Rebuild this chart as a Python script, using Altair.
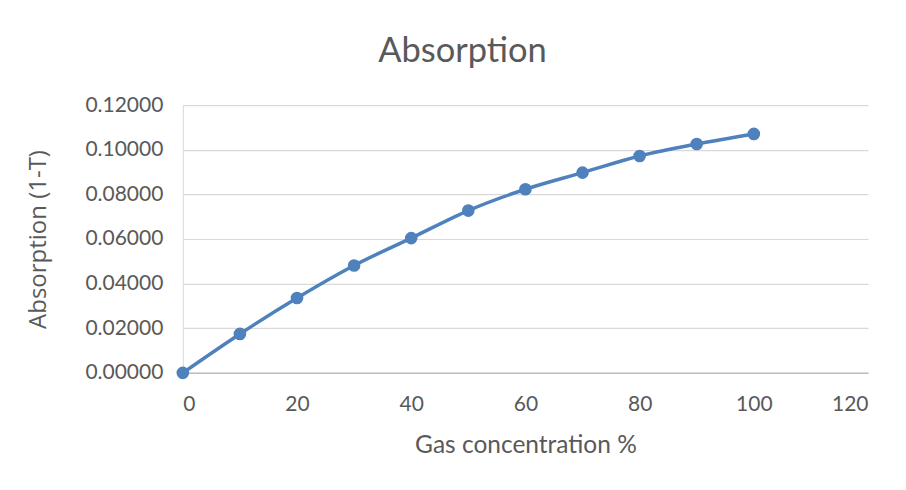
import altair as alt
import pandas as pd

concentration = [0, 10, 20, 30, 40, 50, 60, 70, 80, 90, 100]
absorption = [0.0, 0.01745, 0.03356, 0.04814, 0.06040, 0.07275, 0.08230, 0.08975, 0.09720, 0.10260, 0.10710]

df = pd.DataFrame({"conc": concentration, "abs": absorption})

BLUE = "#4f81bd"
TXT = "#595959"

x = alt.X("conc:Q", scale=alt.Scale(domain=[0, 120], nice=False),
          axis=alt.Axis(title="Gas concentration %", values=[0, 20, 40, 60, 80, 100, 120],
                        grid=False, ticks=False, domain=True, domainColor="#bfbfbf", domainWidth=1.5,
                        labelPadding=21, labelFontSize=21, labelColor=TXT, labelFont="Lato",
                        titleFontSize=24.5, titleColor=TXT, titleFont="Lato", titleFontWeight="normal",
                        titlePadding=19))
y = alt.Y("abs:Q", scale=alt.Scale(domain=[0, 0.12], nice=False),
          axis=alt.Axis(title="Absorption (1-T)", values=[0, 0.02, 0.04, 0.06, 0.08, 0.10, 0.12],
                        format=".5f", grid=True, gridColor="#d9d9d9", gridWidth=1.2,
                        ticks=False, domain=True, domainColor="#d9d9d9", labelPadding=20,
                        labelFontSize=21, labelColor=TXT, labelFont="Lato",
                        titleFontSize=24, titleColor=TXT, titleFont="Open Sans", titleFontWeight="normal",
                        titlePadding=34))

line = alt.Chart(df).mark_line(color=BLUE, strokeWidth=3.5, interpolate="monotone").encode(x=x, y=y)
pts = alt.Chart(df).mark_circle(color=BLUE, size=160, opacity=1).encode(x=x, y=y)

chart = (line + pts).properties(
    width=686, height=268,
    title=alt.Title("Absorption", fontSize=34.5, font="Lato", fontWeight="normal", color=TXT,
                    dx=-63, offset=25),
    autosize=alt.AutoSizeParams(type="none"),
    padding={"left": 175, "top": 97, "right": 30, "bottom": 100},
).configure_view(stroke=None)

chart.save("out.html", embed_options={"renderer": "svg", "actions": False})
